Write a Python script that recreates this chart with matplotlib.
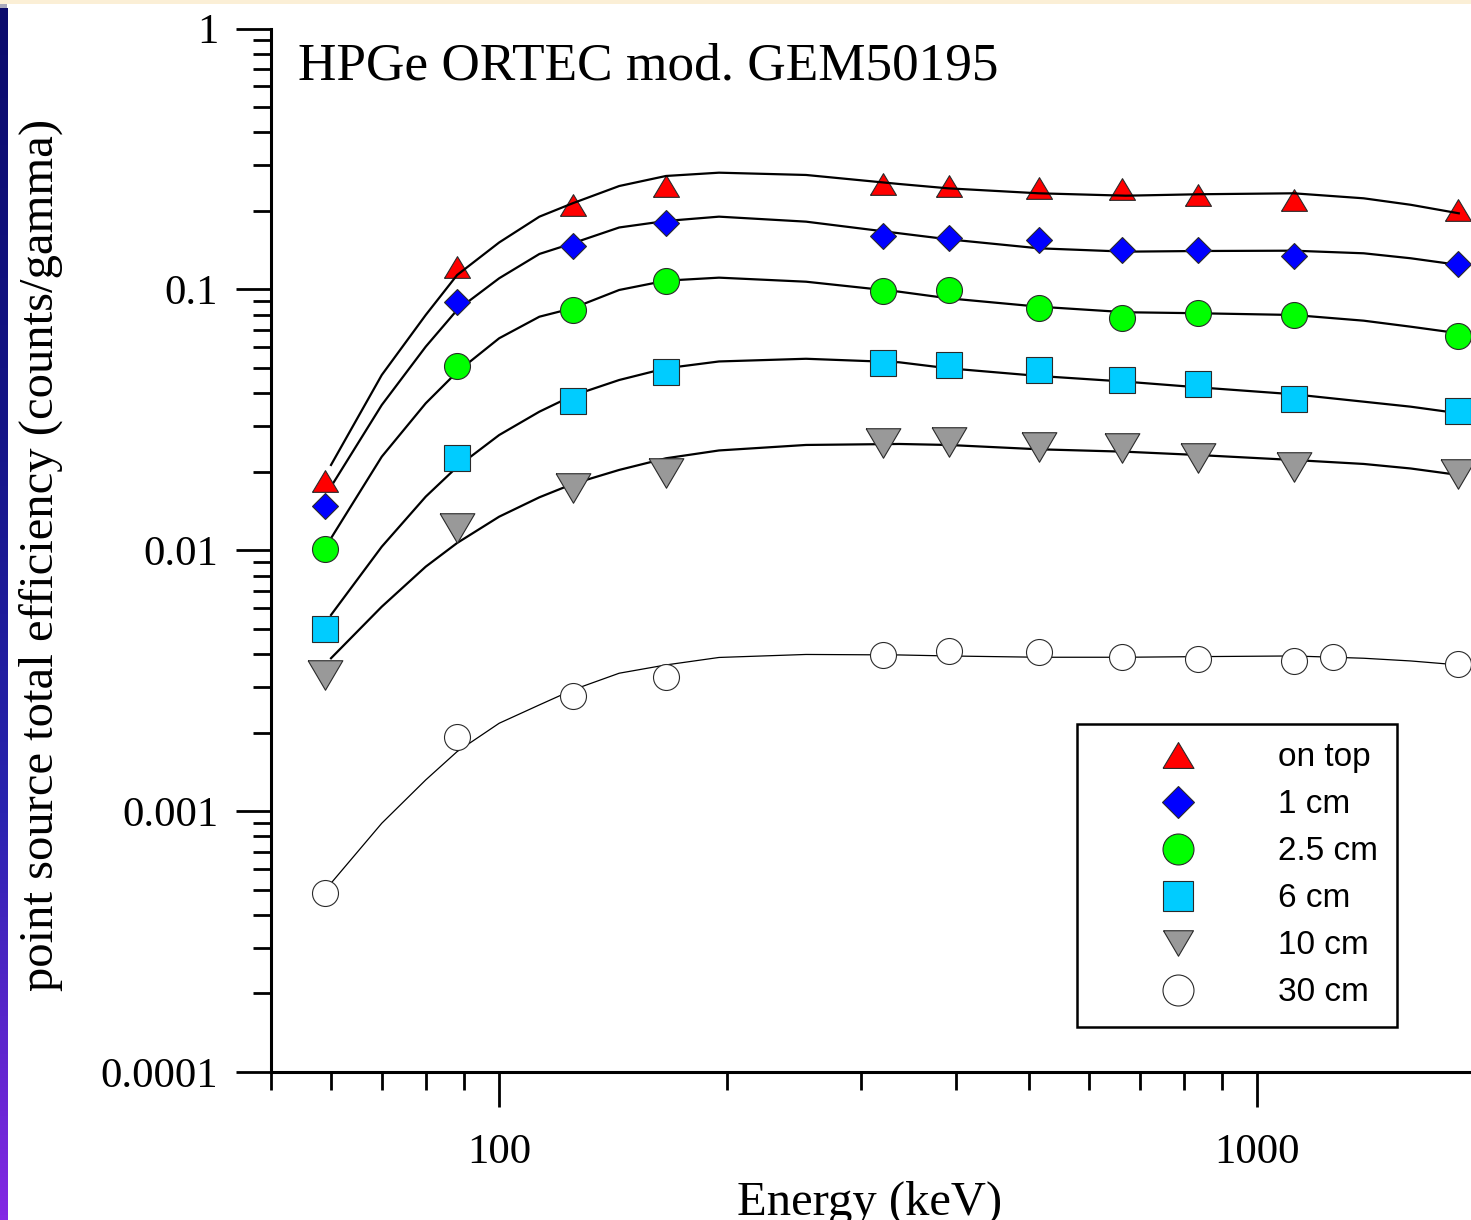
import numpy as np
import matplotlib
matplotlib.use("Agg")
import matplotlib.pyplot as plt
from matplotlib.ticker import FixedLocator, FixedFormatter, NullFormatter, LogLocator
from matplotlib.lines import Line2D
from matplotlib.patches import Rectangle
from matplotlib.colors import LinearSegmentedColormap

# ---------------- data ----------------
energy_pts = [59, 88, 125, 166, 321, 392, 515, 663, 835, 1117, 1838]
energy_pts_30 = [59, 88, 125, 166, 321, 392, 515, 663, 835, 1117, 1258, 1838]

eff_on_top = [0.0185, 0.122, 0.210, 0.2495, 0.253, 0.248, 0.2454, 0.2418, 0.2291, 0.2198, 0.2010]
eff_1cm = [0.01483, 0.0894, 0.1469, 0.1802, 0.1602, 0.1578, 0.1553, 0.1410, 0.1412, 0.1341, 0.1248]
eff_2_5cm = [0.01008, 0.0507, 0.0836, 0.1074, 0.0983, 0.0992, 0.0852, 0.0780, 0.0814, 0.0798, 0.0662]
eff_6cm = [0.004993, 0.02262, 0.03724, 0.0481, 0.05207, 0.05108, 0.0491, 0.04507, 0.04327, 0.03795, 0.03409]
eff_10cm = [0.00332, 0.01215, 0.01728, 0.01981, 0.02571, 0.02608, 0.02494, 0.02472, 0.02264, 0.0208, 0.01956]
eff_30cm = [0.000486, 0.00192, 0.002757, 0.00326, 0.003969, 0.004101, 0.004075, 0.00391, 0.003832,
            0.003771, 0.003899, 0.003655]

# fitted efficiency curves
fit_energy = [60, 70, 80, 88, 100, 113, 125, 144, 166, 195, 254, 337, 391, 515, 671, 835, 1117, 1382, 1594, 1845]
fit_on_top = [0.02123, 0.04697, 0.07977, 0.1135, 0.1513, 0.1900, 0.2138, 0.2490, 0.2721, 0.2801,
              0.2745, 0.2535, 0.2440, 0.2335, 0.2286, 0.2315, 0.2335, 0.2234, 0.2110, 0.1957]
fit_1cm = [0.01753, 0.03604, 0.06031, 0.08337, 0.1103, 0.1367, 0.1502, 0.1727, 0.1829, 0.1900,
           0.1818, 0.1641, 0.1556, 0.1437, 0.1395, 0.1403, 0.1407, 0.1375, 0.1316, 0.1241]
fit_2_5cm = [0.01112, 0.02284, 0.03659, 0.04825, 0.06496, 0.07857, 0.08467, 0.09948, 0.1080, 0.1109,
             0.1070, 0.09799, 0.09245, 0.08584, 0.08172, 0.08101, 0.07977, 0.07586, 0.07194, 0.06788]
fit_6cm = [0.005649, 0.01032, 0.01605, 0.02086, 0.02765, 0.03398, 0.03914, 0.04494, 0.04984, 0.05293,
           0.05420, 0.05255, 0.04984, 0.04657, 0.04428, 0.04214, 0.03962, 0.03711, 0.03551, 0.03350]
fit_10cm = [0.003855, 0.006077, 0.008651, 0.01066, 0.01345, 0.01596, 0.01795, 0.02032, 0.02252, 0.02413,
            0.02533, 0.02555, 0.02533, 0.02438, 0.02386, 0.02318, 0.02218, 0.02142, 0.02058, 0.01943]
fit_30cm = [0.0005293, 0.0008985, 0.001317, 0.001691, 0.002172, 0.002554, 0.002914, 0.003378, 0.003634,
            0.003882, 0.003986, 0.003969, 0.003934, 0.003889, 0.003889, 0.003910, 0.003934, 0.003855,
            0.003764, 0.003634]

series_labels = ["on top", "1 cm", "2.5 cm", "6 cm", "10 cm", "30 cm"]
x_tick_values = [100, 1000]
x_tick_labels = ["100", "1000"]
y_tick_values = [1e-4, 1e-3, 1e-2, 1e-1, 1]
y_tick_labels = ["0.0001", "0.001", "0.01", "0.1", "1"]

title_text = "HPGe ORTEC mod. GEM50195"
x_label = "Energy (keV)"
y_label = "point source total efficiency (counts/gamma)"

# ---------------- styling ----------------
plt.rcParams['font.family'] = ['Liberation Serif', 'DejaVu Serif']

W, H = 1471, 1220
fig = plt.figure(figsize=(W / 100, H / 100), dpi=100)
fig.patch.set_facecolor('white')

# axes geometry (pixels): left spine x=271, bottom spine y=1072, top (1.0) y=28.5
ax_left, ax_bottom_px, ax_top_px = 271, 1072, 28.5
xmin, xmax = 50, 2000
ax_w_px = 758 * np.log10(xmax / xmin)
ax = fig.add_axes([ax_left / W, (H - ax_bottom_px) / H, ax_w_px / W, (ax_bottom_px - ax_top_px) / H])
ax.set_xscale('log')
ax.set_yscale('log')
ax.set_xlim(xmin, xmax)
ax.set_ylim(1e-4, 1)

tri_up = [(-1, -0.835), (1, -0.835), (0, 0.835), (-1, -0.835)]
tri_down = [(-1, 0.85), (1, 0.85), (0, -0.85), (-1, 0.85)]

styles = [
    dict(marker=tri_up, ms=18.7, mfc='#ff0000'),
    dict(marker='D', ms=13.0, mfc='#0000ff'),
    dict(marker='o', ms=18.7, mfc='#00ff00'),
    dict(marker='s', ms=18.7, mfc='#00ccff'),
    dict(marker=tri_down, ms=25.0, mfc='#999999'),
    dict(marker='o', ms=18.7, mfc='#ffffff'),
]
legend_sizes = [22.3, 15.8, 22.3, 22.3, 21.6, 22.3]

fits = [fit_on_top, fit_1cm, fit_2_5cm, fit_6cm, fit_10cm, fit_30cm]
effs = [eff_on_top, eff_1cm, eff_2_5cm, eff_6cm, eff_10cm, eff_30cm]
energies = [energy_pts] * 5 + [energy_pts_30]

for i, (fit, eff, en, st) in enumerate(zip(fits, effs, energies, styles)):
    lw = 0.9 if i == 5 else 1.6
    z = 4 if i == 0 else 2
    ax.plot(fit_energy, fit, color='black', lw=lw, zorder=z, solid_joinstyle='round')
    ax.plot(en, eff, linestyle='none', mec='#2a2a2a', mew=0.8, zorder=3, **st)

# ticks
ax.xaxis.set_major_locator(FixedLocator(x_tick_values))
ax.xaxis.set_major_formatter(FixedFormatter(x_tick_labels))
ax.xaxis.set_minor_locator(LogLocator(base=10, subs=np.arange(2, 10), numticks=20))
ax.xaxis.set_minor_formatter(NullFormatter())
ax.yaxis.set_major_locator(FixedLocator(y_tick_values))
ax.yaxis.set_major_formatter(FixedFormatter(y_tick_labels))
ax.yaxis.set_minor_locator(LogLocator(base=10, subs=np.arange(2, 10), numticks=20))
ax.yaxis.set_minor_formatter(NullFormatter())

ax.tick_params(which='major', direction='out', length=25, width=2.0, labelsize=30.8, color='black')
ax.tick_params(which='minor', direction='out', length=13, width=2.0, color='black')
ax.tick_params(axis='x', which='major', pad=19)
ax.tick_params(axis='y', which='major', pad=13)

for s in ['top', 'right']:
    ax.spines[s].set_visible(False)
for s in ['left', 'bottom']:
    ax.spines[s].set_linewidth(2.2)
    ax.spines[s].set_color('black')
    ax.spines[s].set_capstyle('projecting')

# legend
handles = [Line2D([], [], linestyle='none', marker=st['marker'], ms=ls, mfc=st['mfc'],
                  mec='#2a2a2a', mew=0.8) for st, ls in zip(styles, legend_sizes)]
leg = ax.legend(handles, series_labels, loc='upper left',
                bbox_to_anchor=((1077 - ax_left) / ax_w_px, (ax_bottom_px - 724) / (ax_bottom_px - ax_top_px)),
                borderaxespad=0, frameon=True, fancybox=False, framealpha=1,
                prop={'family': 'Liberation Sans', 'size': 24},
                handlelength=4.97, handletextpad=0.52, borderpad=0.55, labelspacing=0.48,
                numpoints=1)
leg.get_frame().set_edgecolor('black')
leg.get_frame().set_linewidth(1.8)

# texts
fig.text(298 / W, 1 - 80 / H, title_text, ha='left', va='baseline', fontsize=38.3)
fig.text(870 / W, 1 - 1215 / H, x_label, ha='center', va='baseline', fontsize=35)
fig.text(41 / W, 1 - 555 / H, y_label, ha='center', va='center', rotation=90, fontsize=35)

# slide decorations: top beige strip and left gradient stripe
fig.patches.append(Rectangle((0, 1 - 4 / H), 1, 4 / H, transform=fig.transFigure,
                             facecolor='#fbefd6', edgecolor='none', zorder=0))
fig.patches.append(Rectangle((0, 1 - 8 / H), 7 / W, 4 / H, transform=fig.transFigure,
                             facecolor='#a9a9bd', edgecolor='none', zorder=0))
gax = fig.add_axes([0, 0, 7 / W, (H - 8) / H])
cmap = LinearSegmentedColormap.from_list('stripe', ['#0b0b6c', '#141486', '#2a24b0', '#8428e4'])
grad = np.linspace(0, 1, 256).reshape(-1, 1)
gax.imshow(grad, aspect='auto', cmap=cmap, origin='upper')
gax.set_axis_off()

fig.savefig('out.png', dpi=100)
